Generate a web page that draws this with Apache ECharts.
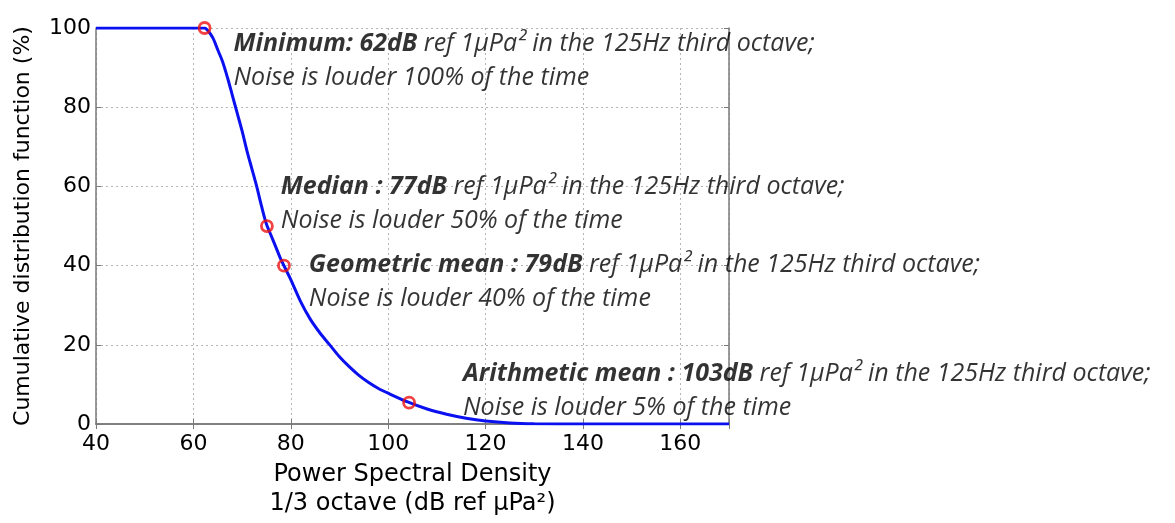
<!DOCTYPE html>
<html>
<head>
<meta charset="utf-8">
<script src="https://cdn.jsdelivr.net/npm/echarts@6/dist/echarts.min.js"></script>
<style>
  html, body { margin: 0; padding: 0; background: #fff; }
  #chart { width: 1175px; height: 523px; }
</style>
</head>
<body>
<div id="chart"></div>
<script>
// CDF curve (x in dB, y in %)
const cdfX = [40, 62.3, 63, 64, 65, 66, 67, 68, 69, 70, 71, 72, 73, 74, 75, 76, 77, 78, 79, 80,
  82, 84, 86, 88, 90, 92, 94, 96, 98, 100, 104, 108, 112, 116, 120, 125, 130, 140, 170];
const cdfY = [100, 100, 99.3, 97.5, 94.5, 91.5, 87.5, 83, 78.5, 74, 69, 64.5, 60, 55, 50.5, 47.5, 44.5, 41.5, 39, 36.5,
  31, 26.5, 23, 20, 17, 14.5, 12.3, 10.5, 9, 7.8, 5.6, 3.8, 2.5, 1.5, 0.8, 0.3, 0.1, 0, 0];

// marked statistics
const statNames = ['Minimum: 62dB', 'Median : 77dB', 'Geometric mean : 79dB', 'Arithmetic mean : 103dB'];
const statX = [62.3, 75.1, 78.6, 104.3];
const statY = [100, 50, 40, 5.4];
const statPct = ['100%', '50%', '40%', '5%'];

const xTicks = [40, 60, 80, 100, 120, 140, 160];
const yTicks = [0, 20, 40, 60, 80, 100];

// label offsets next to each marker
const labelOffsets = [[17, 33], [2, -22], [13, 16], [42, -12]];

const chart = echarts.init(document.getElementById('chart'));

const axisGray = '#7a7a7a';
const axisFont = 'DejaVu Sans';
const gridLine = { show: true, lineStyle: { color: '#b5b5b5', type: [2, 3], width: 1 } };

const option = {
  backgroundColor: '#fff',
  animation: false,
  grid: { left: 96, right: 446, top: 28, bottom: 85, containLabel: false },
  xAxis: [
    {
      type: 'value', min: 40, max: 170, interval: 20,
      name: 'Power Spectral Density\n1/3 octave (dB ref µPa²)',
      nameLocation: 'middle', nameGap: 27,
      nameTextStyle: { fontFamily: axisFont, fontSize: 24, color: '#000', lineHeight: 29, verticalAlign: 'top' },
      axisLine: { lineStyle: { color: axisGray, width: 1.5 } },
      axisTick: { inside: true, length: 5, lineStyle: { color: axisGray } },
      axisLabel: {
        fontFamily: axisFont, fontSize: 22, color: '#000', margin: 9,
        formatter: v => (xTicks.indexOf(v) >= 0 ? String(v) : '')
      },
      splitLine: gridLine
    },
    {
      type: 'value', min: 40, max: 170, interval: 20, position: 'top',
      axisLine: { show: true, lineStyle: { color: axisGray, width: 1.5 } },
      axisTick: { show: true, inside: true, length: 5, lineStyle: { color: axisGray } },
      axisLabel: { show: false }, splitLine: { show: false }
    }
  ],
  yAxis: [
    {
      type: 'value', min: 0, max: 100, interval: 20,
      name: 'Cumulative distribution function (%)',
      nameLocation: 'middle', nameGap: 62,
      nameTextStyle: { fontFamily: axisFont, fontSize: 22, color: '#000' },
      axisLine: { show: true, lineStyle: { color: axisGray, width: 1.5 } },
      axisTick: { show: true, inside: true, length: 5, lineStyle: { color: axisGray } },
      axisLabel: {
        fontFamily: axisFont, fontSize: 22, color: '#000', margin: 5,
        formatter: v => (yTicks.indexOf(v) >= 0 ? String(v) : '')
      },
      splitLine: gridLine
    },
    {
      type: 'value', min: 0, max: 100, interval: 20, position: 'right',
      axisLine: { show: true, lineStyle: { color: axisGray, width: 1.5 } },
      axisTick: { show: true, inside: true, length: 5, lineStyle: { color: axisGray } },
      axisLabel: { show: false }, splitLine: { show: false }
    }
  ],
  series: [
    {
      type: 'line',
      data: cdfX.map((x, i) => [x, cdfY[i]]),
      smooth: 0.3,
      showSymbol: false,
      lineStyle: { color: '#0a10f0', width: 3 },
      z: 3
    },
    {
      type: 'scatter',
      data: statX.map((x, i) => ({
        value: [x, statY[i]],
        label: { offset: labelOffsets[i] }
      })),
      symbol: 'circle',
      symbolSize: 11,
      itemStyle: { color: 'rgba(0,0,0,0)', borderColor: '#ee1111', borderWidth: 2.8 },
      label: {
        show: true,
        position: 'right',
        distance: 5,
        formatter: p => {
          const i = p.dataIndex;
          return '{b|' + statNames[i] + '}{i| ref 1μPa² in the 125Hz third octave;}\n' +
            '{i|Noise is louder ' + statPct[i] + ' of the time}';
        },
        rich: {
          b: { fontFamily: 'Open Sans', fontStyle: 'italic', fontWeight: 'bold', fontSize: 25, color: '#000', lineHeight: 34 },
          i: { fontFamily: 'Open Sans', fontStyle: 'italic', fontSize: 25, color: '#000', lineHeight: 34 }
        }
      },
      z: 4
    }
  ]
};

chart.setOption(option);
</script>
</body>
</html>
